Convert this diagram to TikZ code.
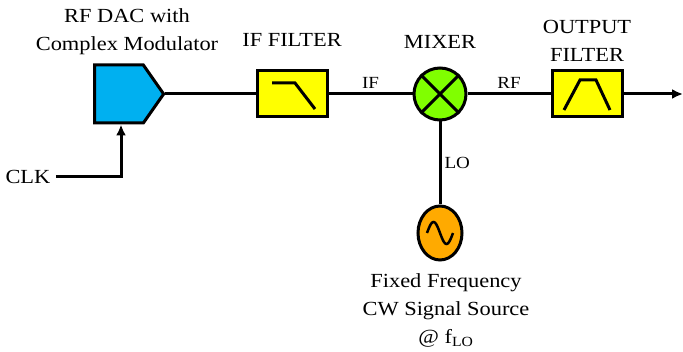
\documentclass[tikz,border=0pt]{standalone}
\usepackage{fontspec}
\setmainfont{Liberation Serif}[FakeStretch=1.12]
\usepackage{tikz}
\usetikzlibrary{arrows.meta,shapes.geometric,shapes.symbols}
\definecolor{dacblue}{HTML}{00B0F0}
\definecolor{filteryellow}{HTML}{FFFF00}
\definecolor{mixgreen}{HTML}{80FF00}
\definecolor{loorange}{HTML}{FFAA00}
\tikzstyle{dacblock}=[signal, signal to=east, signal pointer angle=110, draw=black, fill=dacblue, minimum width=69pt, minimum height=58pt, inner sep=0pt]
\tikzstyle{filterbox}=[rectangle, draw=black, fill=filteryellow, minimum width=70pt, minimum height=46pt, inner sep=0pt]
\tikzstyle{mixer}=[circle, draw=black, fill=mixgreen, minimum size=52pt, inner sep=0pt]
\tikzstyle{losource}=[ellipse, draw=black, fill=loorange, minimum width=44pt, minimum height=54pt, inner sep=0pt]
\tikzstyle{title}=[font=\fontsize{20}{28}\selectfont, align=center, inner sep=0pt]
\tikzstyle{siglabel}=[font=\fontsize{17}{20}\selectfont, inner sep=1pt]

\begin{document}
\begin{tikzpicture}[x=1pt, y=-1pt, line width=3pt, >={Latex[length=11pt,width=10pt]}]
			\useasboundingbox (0,0) rectangle (683,352);
			% blocks
			\node[dacblock] (dac) at (119,94) {};
			\node[filterbox] (iff) at (292,94) {};
			\node[mixer] (mix) at (440,94) {};
			\node[filterbox] (outf) at (587,94) {};
			\node[losource] (lo) at (440,233) {};
			\coordinate (out) at (683,94);
			% titles
			\node[title] (dactxt) at (127,32) {RF DAC with\\Complex Modulator};
			\node[title] (ifftxt) at (292,40) {IF FILTER};
			\node[title] (mixtxt) at (440,42) {MIXER};
			\node[title] (outftxt) at (587,41) {OUTPUT\\FILTER};
			\node[title] (lotxt) at (446,310) {Fixed Frequency\\CW Signal Source\\@ f\textsubscript{LO}};
			\node[title, anchor=west] (clk) at (4,177) {CLK};
			% symbols
			\draw (mix.45) -- (mix.225) (mix.135) -- (mix.315);
			\draw ([shift={(-20,-11)}]iff.center) -- ([shift={(3,-11)}]iff.center) -- ([shift={(23,15)}]iff.center);
			\draw ([shift={(-23,16)}]outf.center) -- ([shift={(-7,-14)}]outf.center) -- ([shift={(9,-14)}]outf.center) -- ([shift={(23,16)}]outf.center);
			\draw[line width=2.5pt, shift={(lo.center)}] plot[domain=-1:1, samples=40, smooth] ({13*\x},{11*sin(180*\x)});
			% connectors
			\draw (dac.east) -- (iff.west);
			\draw (iff.east) -- node[siglabel, above=3pt] {IF} (mix.west);
			\draw (mix.east) -- node[siglabel, above=3pt] {RF} (outf.west);
			\draw[->] (outf.east) -- (out);
			\draw (mix.south) -- node[siglabel, right=2pt] {LO} (lo.north);
			\draw[->] ([xshift=4pt]clk.east) -| ([xshift=2pt]dac.south);
		\end{tikzpicture}
\end{document}
